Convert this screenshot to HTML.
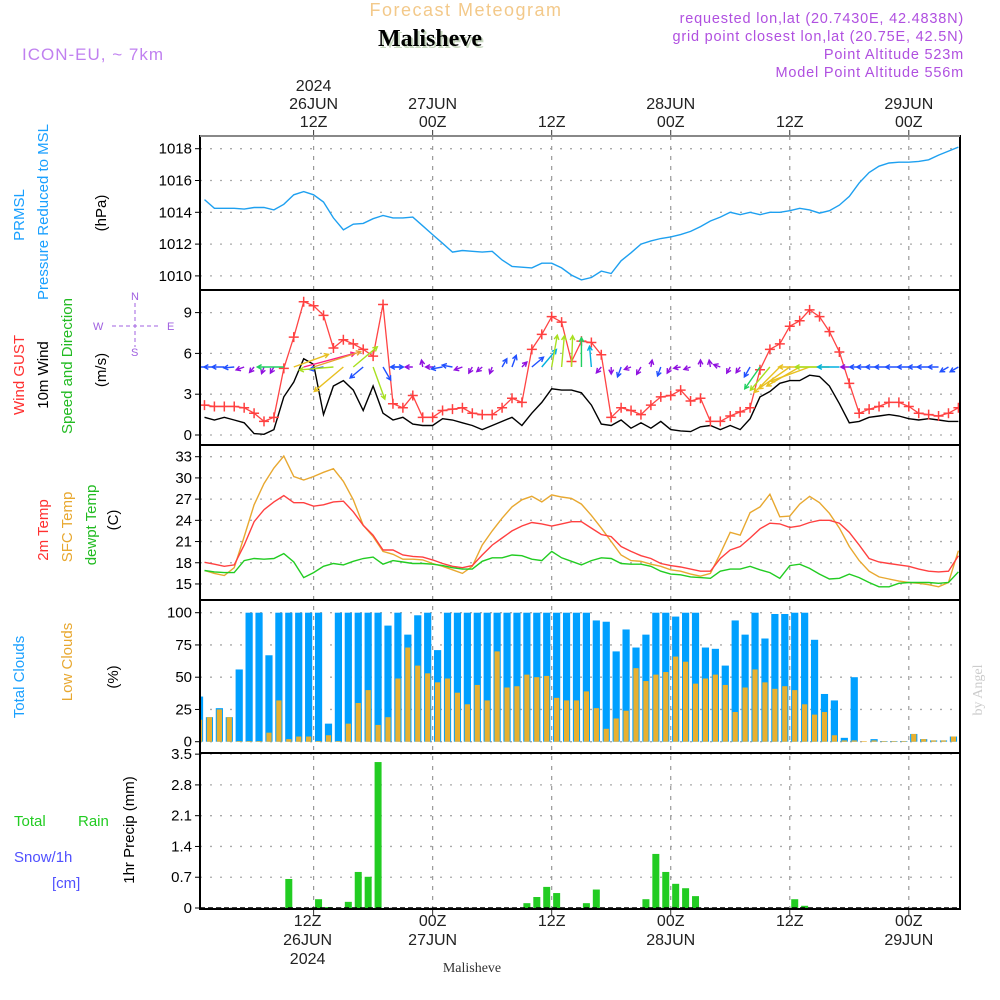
<!DOCTYPE html>
<html><head><meta charset="utf-8"><title>Meteogram Malisheve</title>
<style>
html,body{margin:0;padding:0;background:#fff;}
svg{display:block;font-family:"Liberation Sans",sans-serif;}
</style></head>
<body>
<svg id="chart" width="1000" height="1000" viewBox="0 0 1000 1000" xmlns="http://www.w3.org/2000/svg">
<rect x="0" y="0" width="1000" height="1000" fill="#fff"/>
<text x="466" y="16" font-size="18" fill="#f3c98a" text-anchor="middle" letter-spacing="1.5">Forecast Meteogram</text>
<text x="432" y="48" font-size="24" font-weight="bold" font-family="Liberation Serif,serif" fill="#c8d8c0" text-anchor="middle">Malisheve</text>
<text x="430" y="46" font-size="24" font-weight="bold" font-family="Liberation Serif,serif" fill="#000" text-anchor="middle">Malisheve</text>
<text x="22" y="60" font-size="17" fill="#c080f0" letter-spacing="1">ICON-EU, ~ 7km</text>
<g font-size="14.5" fill="#b050e0" text-anchor="end" letter-spacing="0.8">
<text x="964" y="23">requested lon,lat (20.7430E, 42.4838N)</text>
<text x="964" y="41">grid point closest lon,lat (20.75E, 42.5N)</text>
<text x="964" y="59">Point Altitude 523m</text>
<text x="964" y="77">Model Point Altitude 556m</text>
</g>
<g id="topaxis" font-size="16" fill="#222" text-anchor="middle"></g>
<g id="botaxis" font-size="16" fill="#222" text-anchor="middle"></g>
<g font-size="15">
<text transform="translate(24,215) rotate(-90)" fill="#1aa0ff" text-anchor="middle">PRMSL</text>
<text transform="translate(48,212) rotate(-90)" fill="#1aa0ff" text-anchor="middle">Pressure Reduced to MSL</text>
<text transform="translate(106,213) rotate(-90)" fill="#000" text-anchor="middle">(hPa)</text>
<text transform="translate(24,375) rotate(-90)" fill="#ff3030" text-anchor="middle">Wind GUST</text>
<text transform="translate(48,375) rotate(-90)" fill="#000" text-anchor="middle">10m Wind</text>
<text transform="translate(72,366) rotate(-90)" fill="#22bb22" text-anchor="middle">Speed and Direction</text>
<text transform="translate(106,370) rotate(-90)" fill="#000" text-anchor="middle">(m/s)</text>
<text transform="translate(48,530) rotate(-90)" fill="#ff3030" text-anchor="middle">2m Temp</text>
<text transform="translate(72,527) rotate(-90)" fill="#e8a830" text-anchor="middle">SFC Temp</text>
<text transform="translate(96,525) rotate(-90)" fill="#22bb22" text-anchor="middle">dewpt Temp</text>
<text transform="translate(118,520) rotate(-90)" fill="#000" text-anchor="middle">(C)</text>
<text transform="translate(24,677) rotate(-90)" fill="#1aa0ff" text-anchor="middle">Total Clouds</text>
<text transform="translate(72,662) rotate(-90)" fill="#e8a830" text-anchor="middle">Low Clouds</text>
<text transform="translate(118,677) rotate(-90)" fill="#000" text-anchor="middle">(%)</text>
<text transform="translate(134,830) rotate(-90)" fill="#000" text-anchor="middle">1hr Precip (mm)</text>
<text x="14" y="826" fill="#22cc22">Total</text>
<text x="78" y="826" fill="#22cc22">Rain</text>
<text x="14" y="862" fill="#5050ff">Snow/1h</text>
<text x="52" y="888" fill="#5050ff">[cm]</text>
</g>
<g font-size="11" fill="#a060e0">
<text x="131" y="300">N</text>
<text x="131" y="356">S</text>
<text x="93" y="330">W</text>
<text x="167" y="330">E</text>
<line x1="112" y1="326" x2="160" y2="326" stroke="#a060e0" stroke-dasharray="4,3"/>
<line x1="135" y1="303" x2="135" y2="347" stroke="#a060e0" stroke-dasharray="4,3"/>
</g>
<text transform="translate(982,690) rotate(-90)" font-size="14" fill="#ccc" text-anchor="middle" font-family="Liberation Serif,serif">by Angel</text>
<text x="472" y="972" font-size="14" font-family="Liberation Serif,serif" fill="#333" text-anchor="middle">Malisheve</text>
<g id="plots"></g>
</svg>
<script>
// ---- data (hours 1..77 from 00Z 26JUN) ----
const pressure=[1014.8,1014.25,1014.25,1014.25,1014.2,1014.3,1014.3,1014.15,1014.5,1015.1,1015.3,1015.1,1014.65,1013.65,1012.9,1013.25,1013.3,1013.6,1013.8,1013.65,1013.65,1013.7,1013.15,1012.6,1012.05,1011.5,1011.6,1011.55,1011.5,1011.55,1011.0,1010.6,1010.55,1010.5,1010.8,1010.8,1010.5,1010.05,1009.75,1009.9,1010.3,1010.15,1010.95,1011.45,1012.0,1012.2,1012.35,1012.45,1012.6,1012.8,1013.1,1013.45,1013.7,1014.0,1013.85,1014.0,1013.85,1014.0,1014.0,1014.1,1014.25,1014.15,1013.95,1014.1,1014.45,1015.0,1015.85,1016.5,1016.9,1017.1,1017.15,1017.15,1017.2,1017.3,1017.6,1017.85,1018.1];
const windSpeed=[1.3,1.1,1.3,1.1,0.9,0.1,0.05,0.4,2.8,3.9,5.6,5.2,1.5,3.6,4.0,3.3,1.8,3.6,1.6,1.1,1.3,0.8,0.7,0.7,1.2,1.1,0.9,0.7,0.4,0.7,1.0,1.3,0.7,1.6,2.4,3.4,3.3,3.3,3.1,2.2,0.8,0.7,1.1,0.5,0.9,0.5,1.0,0.4,0.3,0.25,0.6,0.7,0.4,0.7,0.4,1.2,2.8,3.2,3.8,4.0,4.0,4.4,4.3,3.6,2.3,0.9,1.0,1.3,1.4,1.5,1.4,1.2,1.1,1.2,1.1,1.0,1.0];
const windGust=[2.2,2.1,2.1,2.1,2.0,1.6,1.0,1.3,4.9,7.2,9.8,9.5,8.8,6.4,7.0,6.7,6.3,5.8,9.6,2.3,2.0,2.9,1.3,1.3,1.8,1.9,2.0,1.6,1.5,1.5,2.0,2.7,2.4,6.3,7.4,8.7,8.3,5.4,6.9,6.8,5.9,1.3,2.0,1.8,1.5,2.2,2.8,2.9,3.3,2.5,2.7,1.0,1.0,1.4,1.7,2.0,4.8,6.3,6.7,8.0,8.4,9.2,8.7,7.6,6.1,3.8,1.6,1.9,2.1,2.4,2.4,2.1,1.6,1.5,1.4,1.6,2.0];
const windDir=[180,180,180,185,200,230,250,240,180,20,15,18,190,185,220,40,220,290,300,0,180,180,100,180,190,170,200,240,220,250,60,70,45,40,50,80,85,88,90,95,230,270,250,200,240,80,250,240,190,200,90,100,160,240,235,240,235,230,225,215,210,200,180,180,180,180,180,180,180,180,180,180,180,180,180,210,210];
const temp2m=[18.07,17.8,17.5,17.7,20.5,23.8,25.5,26.6,27.5,26.5,26.5,26.0,26.2,26.6,26.7,25.2,23.3,21.9,19.8,19.8,19.1,18.9,18.8,18.4,17.9,17.5,17.3,17.6,19.1,20.5,21.5,22.5,23.2,23.7,23.5,23.2,23.5,23.8,23.8,22.9,22.0,21.7,20.3,19.6,19.0,18.6,17.9,17.6,17.4,17.1,16.8,16.8,18.6,19.8,20.3,21.5,22.8,23.6,23.5,23.0,23.2,23.7,24.0,24.0,23.6,22.3,20.5,18.6,18.1,17.9,17.7,17.5,17.1,16.8,16.7,16.8,19.0];
const tempSfc=[16.9,16.5,16.2,17.3,21.7,26.2,29.2,31.4,33.1,30.2,29.7,30.2,30.8,31.3,29.5,26.9,23.3,21.7,19.6,19.2,18.5,18.5,18.4,17.9,17.5,17.0,16.5,17.5,20.5,22.5,24.3,25.9,26.9,27.4,26.6,27.6,27.3,27.1,26.3,24.7,22.9,21.0,19.1,18.3,18.2,17.8,17.5,17.0,16.8,16.4,16.1,16.5,19.3,22.3,21.9,25.1,25.9,27.7,24.5,24.6,26.3,27.4,26.5,25.0,22.9,20.3,18.3,16.8,16.0,15.7,15.4,15.2,15.1,14.9,14.6,15.2,19.7];
const tempDew=[16.9,16.7,16.6,16.6,18.3,18.6,18.5,18.6,19.3,18.1,15.9,16.6,17.5,17.9,17.7,18.2,18.6,18.8,17.8,18.3,18.1,17.9,17.9,17.8,17.6,17.3,17.1,17.1,18.2,18.7,18.7,19.1,19.0,18.5,18.3,19.6,18.7,18.2,17.7,18.3,18.7,18.6,17.9,17.8,17.8,17.5,16.8,16.4,16.3,16.0,15.9,15.8,16.8,17.1,17.1,17.5,17.0,16.6,15.8,17.6,17.8,17.2,16.4,15.7,15.8,16.4,15.9,15.2,14.6,14.6,15.1,15.2,15.2,15.2,15.1,15.2,16.7];
// bars: hour-centers 0.5 .. 76.5
const totalClouds=[35,19,26,19,56,100,100,67,100,100,100,100,100,14,100,100,100,100,100,90,100,83,98,100,71,100,100,100,100,100,100,100,100,100,100,100,100,100,100,100,94,93,70,87,73,83,100,100,97,100,100,73,72,59,94,83,100,80,99,99,100,100,79,37,32,3,50,0,2,0.5,0.5,0.5,6,2,1,1,4];
const lowClouds=[17,19,25,19,0.5,0.5,0.5,7,32,2,4,4,0.5,5,0.5,14,30,40,13,19,49,73,59,53,46,49,38,29,44,32,70,42,43,52,50,51,34,32,32,39,26,10,18,24,57,47,52,54,66,62,45,49,52,44,23,42,56,46,41,43,40,29,21,23,5,1,1,0.5,1,0.5,0.5,0.5,6,2,1,1,4];
const precip=[0,0,0,0,0,0,0,0,0,0.66,0,0,0.2,0.02,0,0.14,0.82,0.71,3.32,0,0,0,0,0,0,0,0,0,0,0,0,0,0,0.11,0.25,0.48,0.34,0,0,0.11,0.42,0,0,0,0,0.2,1.23,0.82,0.55,0.45,0.27,0,0,0,0,0,0,0,0,0,0.2,0.05,0,0,0,0,0,0,0,0,0,0,0,0,0,0,0];
const pTicks=[1010,1012,1014,1016,1018];
const wTicks=[0,3,6,9];
const tTicks=[15,18,21,24,27,30,33];
const cTicks=[0,25,50,75,100];
const rTicks=[0,0.7,1.4,2.1,2.8,3.5];
const timeHours=[12,24,36,48,60,72];
const topLabels=[["2024","26JUN","12Z"],["","27JUN","00Z"],["","","12Z"],["","28JUN","00Z"],["","","12Z"],["","29JUN","00Z"]];
const botLabels=[["12Z","26JUN","2024"],["00Z","27JUN",""],["12Z","",""],["00Z","28JUN",""],["12Z","",""],["00Z","29JUN",""]];

// ---- axes ----
const X0=200,X1=960;
function xH(h){return 313.6+(h-12)*9.92;}
const P=[{y0:136,y1:290},{y0:290,y1:445},{y0:445,y1:600},{y0:600,y1:753},{y0:753,y1:909}];
function yP(v){return 148.7+(1018-v)*15.9;}
function yW(v){return 435-v*13.6;}
function yT(v){return 456.7+(33-v)*7.07;}
function yC(v){return 741.7-v*1.29;}
function yR(v){return 908-v*43.96;}

const NS="http://www.w3.org/2000/svg";
const plots=document.getElementById('plots');
function mk(tag,attrs,parent){const e=document.createElementNS(NS,tag);for(const k in attrs)e.setAttribute(k,attrs[k]);(parent||plots).appendChild(e);return e;}

const defs=mk('defs',{});
P.forEach((p,i)=>{const c=mk('clipPath',{id:'clip'+i},defs);mk('rect',{x:X0,y:p.y0,width:X1-X0,height:p.y1-p.y0},c);});

function hgrid(ticks,yf,pi,fmt){
  ticks.forEach(t=>{
    const y=yf(t);
    const g=mk('line',{x1:X0,x2:X1,y1:y,y2:y,stroke:'#aaa','stroke-width':1.3,'stroke-dasharray':'2,8'});
    
    
    mk('line',{x1:X0-5,x2:X0,y1:y,y2:y,stroke:'#000'});
    const l=mk('text',{x:X0-8,y:y+5,'font-size':15,'text-anchor':'end',fill:'#000'});
    l.textContent=fmt?fmt(t):t;
    
    
  });
}
hgrid(pTicks,yP,0);
hgrid(wTicks,yW,1);
hgrid(tTicks,yT,2);
hgrid(cTicks,yC,3);
hgrid(rTicks,yR,4,t=>t===0?'0':t.toFixed(1));

timeHours.forEach((h,i)=>{
  const x=xH(h);
  const v=mk('line',{x1:x,x2:x,y1:136,y2:909,stroke:'#999','stroke-width':1.2,'stroke-dasharray':'4,6'});
  
  
  mk('line',{x1:x,x2:x,y1:130,y2:136,stroke:'#333'});
  mk('line',{x1:x,x2:x,y1:909,y2:915,stroke:'#333'});
  const ta=document.getElementById('topaxis');
  topLabels[i].forEach((s,j)=>{if(!s)return;const t=mk('text',{x:x,y:91+j*18},ta);t.textContent=s;
    
    });
  const ba=document.getElementById('botaxis');
  botLabels[i].forEach((s,j)=>{if(!s)return;const t=mk('text',{x:x-(i===0?6:0),y:926+j*19},ba);t.textContent=s;
    
    });
});

function linePath(arr,yf,color,w,clip,name){
  const d=arr.map((v,i)=>(i?'L':'M')+xH(i+1).toFixed(1)+','+yf(v).toFixed(1)).join('');
  const p=mk('path',{d:d,fill:'none',stroke:color,'stroke-width':w,'clip-path':'url(#clip'+clip+')'});
  
  
  return p;
}
linePath(pressure,yP,'#1ea0f0',1.4,0,'pressure-line');
linePath(windSpeed,yW,'#000',1.4,1,'wind-speed-line');
linePath(windGust,yW,'#ff4444',1.3,1,'wind-gust-line');
windGust.forEach((v,i)=>{
  const x=xH(i+1),y=yW(v);
  const c=mk('path',{d:`M${x-5},${y}H${x+5}M${x},${y-5}V${y+5}`,stroke:'#ff4040','stroke-width':1.5,'clip-path':'url(#clip1)'});
  
  
});
function spdColor(s){if(s<1)return '#9010e0';if(s<2)return '#2050ff';if(s<2.6)return '#00b0e0';if(s<3.2)return '#20d060';if(s<3.8)return '#a8e020';if(s<4.6)return '#e8c020';if(s<5.3)return '#e8a030';return '#ff2080';}
windDir.forEach((d,i)=>{
  const s=windSpeed[i];
  const L=Math.max(7,s*9.5);
  const a=d*Math.PI/180;
  const x0=xH(i+1),y0=yW(5);
  const x1=x0+L*Math.cos(a),y1=y0-L*Math.sin(a);
  const hx1=x1-5*Math.cos(a-0.5),hy1=y1+5*Math.sin(a-0.5);
  const hx2=x1-5*Math.cos(a+0.5),hy2=y1+5*Math.sin(a+0.5);
  const col=spdColor(s);
  const ar=mk('path',{d:`M${x0},${y0}L${x1},${y1}M${hx1},${hy1}L${x1},${y1}L${hx2},${hy2}`,stroke:col,'stroke-width':1.4,fill:'none','clip-path':'url(#clip1)'});
  
  
});
linePath(tempSfc,yT,'#e8a830',1.4,2,'sfc-temp-line');
linePath(temp2m,yT,'#ff4040',1.4,2,'temp-2m-line');
linePath(tempDew,yT,'#22cc22',1.4,2,'dewpoint-line');
totalClouds.forEach((v,i)=>{
  const x=xH(i+0.5);
  const r=mk('rect',{x:x-3.6,y:yC(v),width:7.2,height:yC(0)-yC(v),fill:'#00a0ff','clip-path':'url(#clip3)'});
  
  
});
lowClouds.forEach((v,i)=>{
  const x=xH(i+0.5);
  const r=mk('rect',{x:x-2.6,y:yC(v),width:5.2,height:yC(0)-yC(v),fill:'#e8b030','clip-path':'url(#clip3)'});
  
  
});
precip.forEach((v,i)=>{
  if(v<=0)return;
  const x=xH(i+0.5);
  const r=mk('rect',{x:x-3.5,y:yR(v),width:7,height:yR(0)-yR(v),fill:'#22cc22','clip-path':'url(#clip4)'});
  
  
});
mk('line',{x1:X0,x2:X1,y1:908,y2:908,stroke:'#000','stroke-width':1.5,'stroke-dasharray':'5,3'});
P.forEach((p,i)=>{
  const f=mk('rect',{x:X0,y:p.y0,width:X1-X0,height:p.y1-p.y0,fill:'none',stroke:'#000','stroke-width':2});
  
  
});
mk('line',{x1:X0,x2:X1,y1:136,y2:136,stroke:'#888','stroke-width':2});
</script>
</body></html>
